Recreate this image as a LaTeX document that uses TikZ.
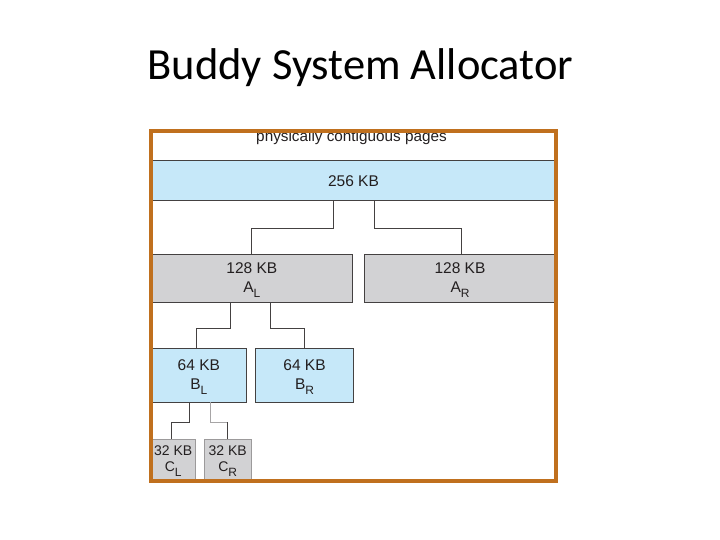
\documentclass[tikz,border=0pt]{standalone}
\usepackage{fontspec}
\setmainfont{Liberation Sans}
\newfontfamily\titlefont{Carlito}
\usetikzlibrary{calc}
\definecolor{lblue}{RGB}{198,232,249}
\definecolor{lgray}{RGB}{210,210,212}
\definecolor{frameor}{RGB}{192,112,30}
\definecolor{ink}{RGB}{35,31,32}
\newcommand\sbs[1]{\raisebox{-0.6ex}{\fontsize{12}{12}\selectfont #1}}
\tikzset{
  blk/.style={draw=ink!85, line width=1pt, inner sep=0pt, outer sep=0pt, align=center, text=ink, font=\fontsize{15.5}{17}\selectfont},
  bluebox/.style={blk, fill=lblue},
  graybox/.style={blk, fill=lgray},
  smallbox/.style={blk, fill=lgray, draw=ink!45, font=\fontsize{14}{15}\selectfont},
  twoline/.style={label={[inner sep=0pt, align=center, text=ink, font=\fontsize{15.5}{17}\selectfont, yshift=-2.5pt]center:#1}},
  twosmall/.style={label={[inner sep=0pt, align=center, text=ink, font=\fontsize{14}{15}\selectfont, yshift=-1pt]center:#1}},
  conn/.style={draw=ink!85, line width=1pt},
  lconn/.style={draw=ink!40, line width=1pt},
}
\begin{document}
\begin{tikzpicture}[x=1pt,y=-1pt]
\useasboundingbox (0,0) rectangle (720,540);
\fill[white] (0,0) rectangle (720,540);
\node[anchor=base, font=\titlefont\fontsize{44.5}{50}\selectfont] (title) at (360.5,80) {Buddy System Allocator};
\begin{scope}
\clip (151,131) rectangle (556,481);
\node[text=ink, font=\fontsize{15.3}{16}\selectfont, anchor=base] (lbl) at (351.5,142) {physically contiguous pages};
\node[bluebox, minimum width=405pt, minimum height=40pt] (top) at (353.5,181) {256 KB};
\node[graybox, minimum width=201.7pt, minimum height=48pt, twoline={128 KB\\[2pt]A\sbs{L}}] (AL) at (251.85,278) {};
\node[graybox, minimum width=192pt, minimum height=48pt, twoline={128 KB\\[2pt]A\sbs{R}}] (AR) at (460,278) {};
\node[bluebox, minimum width=95.7pt, minimum height=54pt, twoline={64 KB\\[2pt]B\sbs{L}}] (BL) at (198.85,375) {};
\node[bluebox, minimum width=97.6pt, minimum height=54pt, twoline={64 KB\\[2pt]B\sbs{R}}] (BR) at (304.5,375) {};
\node[smallbox, minimum width=44.3pt, minimum height=42pt, twosmall={32 KB\\[1pt]C\sbs{L}}] (CL) at (173.15,460) {};
\node[smallbox, minimum width=46.7pt, minimum height=42pt, twosmall={32 KB\\[1pt]C\sbs{R}}] (CR) at (227.65,460) {};
\draw[conn] (top.south -| 333.3,0) -- ++(0,27.3) -| (AL.north -| 251,0);
\draw[conn] (top.south -| 374.3,0) -- ++(0,27.3) -| (AR.north -| 461,0);
\draw[conn] (AL.south -| 230.7,0) -- ++(0,26.3) -| (BL.north -| 196.7,0);
\draw[conn] (AL.south -| 270,0) -- ++(0,26.3) -| (BR.north -| 304,0);
\draw[conn] (BL.south -| 189,0) -- ++(0,20.3) -- (171.7,422.3) coordinate (c1) -- (CL.north -| c1);
\draw[lconn] (BL.south -| 210.3,0) -- ++(0,20.3) -- (227.3,422.3) coordinate (c2);
\draw[conn] (c2) -- (CR.north -| c2);
\end{scope}
\draw[frameor, line width=4pt] (151,131) rectangle (556,481);
\end{tikzpicture}
\end{document}
